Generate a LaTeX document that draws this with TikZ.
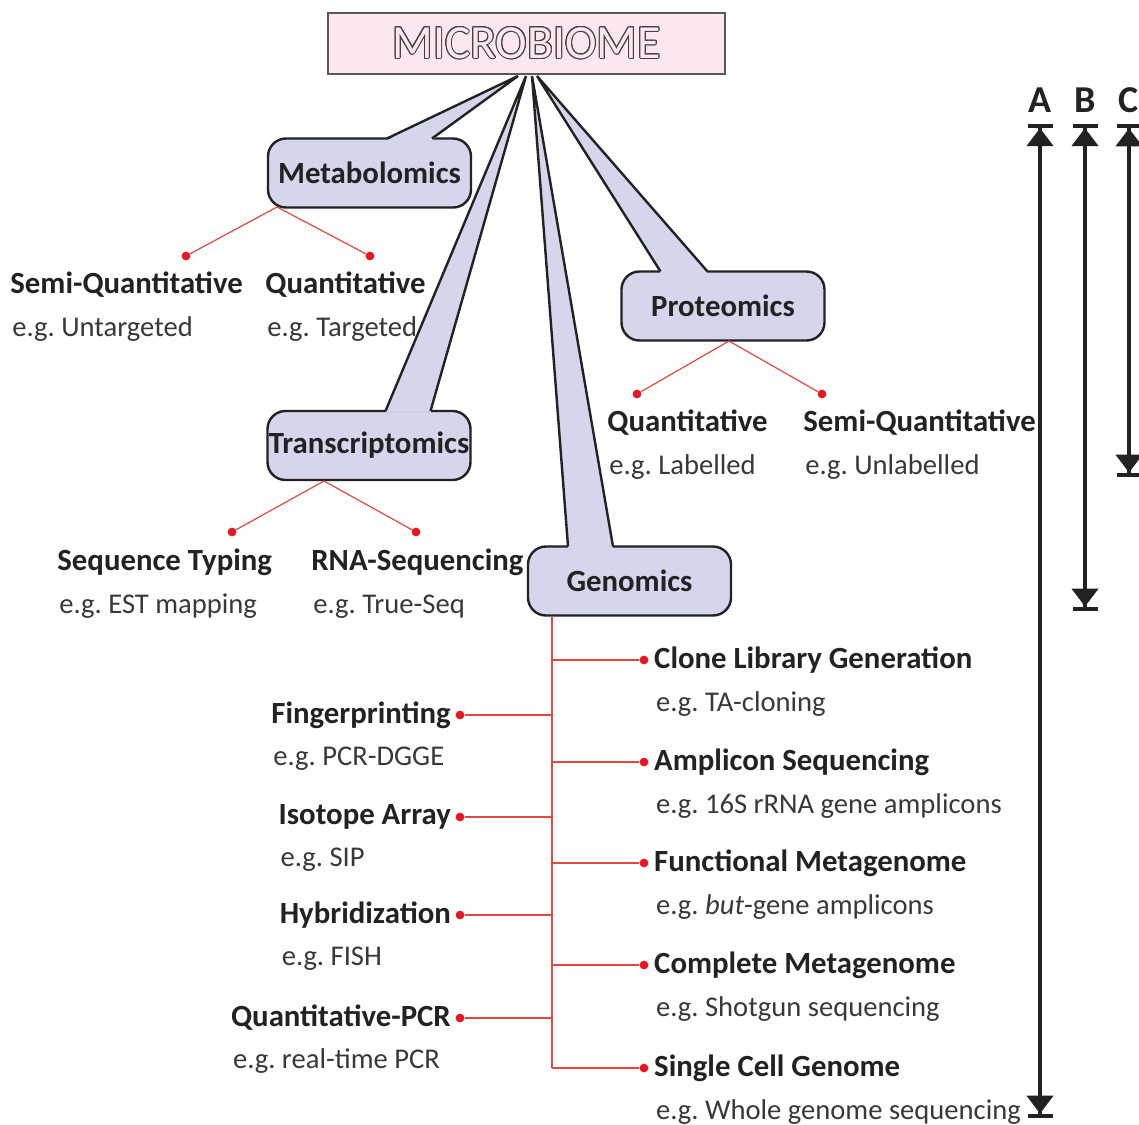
\documentclass[tikz,border=0pt]{standalone}
\usepackage{fontspec}
\setmainfont{Carlito}
\usepackage{contour}
\usetikzlibrary{arrows.meta,positioning,calc}
\definecolor{titlepink}{RGB}{252,231,241}
\definecolor{calloutfill}{RGB}{213,213,236}
\definecolor{branchred}{RGB}{226,72,66}
\definecolor{dotred}{RGB}{232,22,34}
\definecolor{inkgray}{RGB}{34,34,34}
\contourlength{0.5pt}
\frenchspacing

\tikzset{
  omics/.style={draw=inkgray, line width=1.2pt, fill=calloutfill, rounded corners=9pt,
    minimum width=101.5pt, minimum height=34.5pt, inner sep=0pt, outer sep=0pt,
    font=\fontsize{15.4}{18}\selectfont\bfseries, text=inkgray},
  tailside/.style={draw=inkgray, line width=1.2pt},
  branch/.style={draw=branchred, line width=0.6pt},
  leaf/.style={circle, fill=dotred, inner sep=0pt, minimum size=4.4pt},
  method/.style={font=\fontsize{15.4}{18}\selectfont\bfseries, text=inkgray, inner sep=0pt, anchor=base west},
  example/.style={font=\fontsize{14.3}{18}\selectfont, text=inkgray!90, inner sep=0pt, anchor=base west},
  scopebar/.style={draw=inkgray, line width=2.2pt,
    {Bar[width=12.5pt,line width=2.2pt]Triangle[width=13pt,length=9pt]}-{Triangle[width=13pt,length=9pt]Bar[width=12.5pt,line width=2.2pt]}},
  scopelab/.style={font=\fontsize{19}{22}\selectfont\bfseries, text=inkgray, inner sep=0pt}
}

\begin{document}
\begin{tikzpicture}[x=0.5pt, y=-0.5pt]
    \useasboundingbox (0,0) rectangle (1139,1124);

    % Omics callouts
    \node[omics] (metab) at (369.5,173) {Metabolomics};
    \node[omics] (prot) at (723,306) {Proteomics};
    \node[omics] (trans) at (369,445.5) {Transcriptomics};
    \node[omics] (genom) at (629.5,581) {Genomics};

    % Callout tails up to the title
    \foreach \nd/\tx/\a/\b in {metab/518/119/164, trans/526/118/163, genom/532/40/85, prot/537/39/86} {
        \fill[calloutfill] (\tx,76) -- ($(\nd.north west)+(\a,1.6)$) -- ($(\nd.north west)+(\b,1.6)$) -- cycle;
        \draw[tailside] ($(\nd.north west)+(\a,0)$) -- (\tx,76) -- ($(\nd.north west)+(\b,0)$);
    }

    % Title box
    \node[draw=gray!70!black, line width=0.8pt, fill=titlepink, minimum width=198.5pt,
        minimum height=30.5pt, inner sep=0pt, text=titlepink,
        font=\fontsize{23.8}{28}\selectfont] (micro) at (526.5,43.5) {\contour{inkgray!85}{MICROBIOME}};

    % Metabolomics, Proteomics, Transcriptomics branches
    \foreach \nm/\fx/\fy/\ax/\ay/\bx/\by in {mfork/277/207/186/256/370/256,
        pfork/729/341/637/394/822/394, tfork/324/481/232/532/416/532} {
        \coordinate (\nm) at (\fx,\fy);
        \node[leaf] (\nm-l) at (\ax,\ay) {};
        \node[leaf] (\nm-r) at (\bx,\by) {};
        \draw[branch] (\nm-l) -- (\nm) -- (\nm-r);
    }
    \foreach \nm/\x/\y/\lab/\eg in {ms/10/293/Semi-Quantitative/Untargeted, mq/265/293/Quantitative/Targeted,
        pq/607/431/Quantitative/Labelled, ps/803/431/Semi-Quantitative/Unlabelled,
        ts/57/570/Sequence Typing/EST mapping, tr/311/570/RNA-Sequencing/True-Seq} {
        \node[method] (\nm) at (\x,\y) {\lab};
        \node[example] (\nm-eg) at ($(\nm.base west)+(2,43)$) {e.g. \eg};
    }

    % Genomics trunk
    \coordinate (gtop) at ($(genom.south west)+(24,0)$);
    \coordinate (gbot) at (552,1068);
    \draw[branch] (gtop) -- (gbot);

    % right side methods
    \foreach \nm/\y/\lab/\eg in {cl/660/Clone Library Generation/TA-cloning,
        am/762/Amplicon Sequencing/16S rRNA gene amplicons,
        fm/863/Functional Metagenome/\textit{but}-gene amplicons,
        cm/965/Complete Metagenome/Shotgun sequencing,
        sc/1068/Single Cell Genome/Whole genome sequencing} {
        \node[leaf] (\nm-dot) at (644,\y) {};
        \draw[branch] (gtop |- \nm-dot) -- (\nm-dot);
        \node[method, right=2.5pt of \nm-dot] (\nm) {\lab};
        \node[example] (\nm-eg) at ($(\nm.base west)+(2,43)$) {e.g. \eg};
    }

    % left side methods
    \foreach \nm/\y/\lab/\eg in {fp/715/Fingerprinting/PCR-DGGE, ia/817/Isotope Array/SIP,
        hy/915/Hybridization/FISH, qp/1018/Quantitative-PCR/real-time PCR} {
        \node[leaf] (\nm-dot) at (460,\y) {};
        \draw[branch] (gtop |- \nm-dot) -- (\nm-dot);
        \node[method, left=2pt of \nm-dot] (\nm) {\lab};
        \node[example] (\nm-eg) at ($(\nm.base west)+(2,42)$) {e.g. \eg};
    }

    % Scope arrows A, B, C
    \foreach \nm/\x/\yend in {A/1040/1118, B/1085/611, C/1129/477} {
        \node[scopelab] (lab\nm) at (\x,100) {\nm};
        \coordinate (end\nm) at (\x,\yend);
        \draw[scopebar] ([yshift=-5.5pt]lab\nm.south) -- (end\nm);
    }
\end{tikzpicture}
\end{document}
